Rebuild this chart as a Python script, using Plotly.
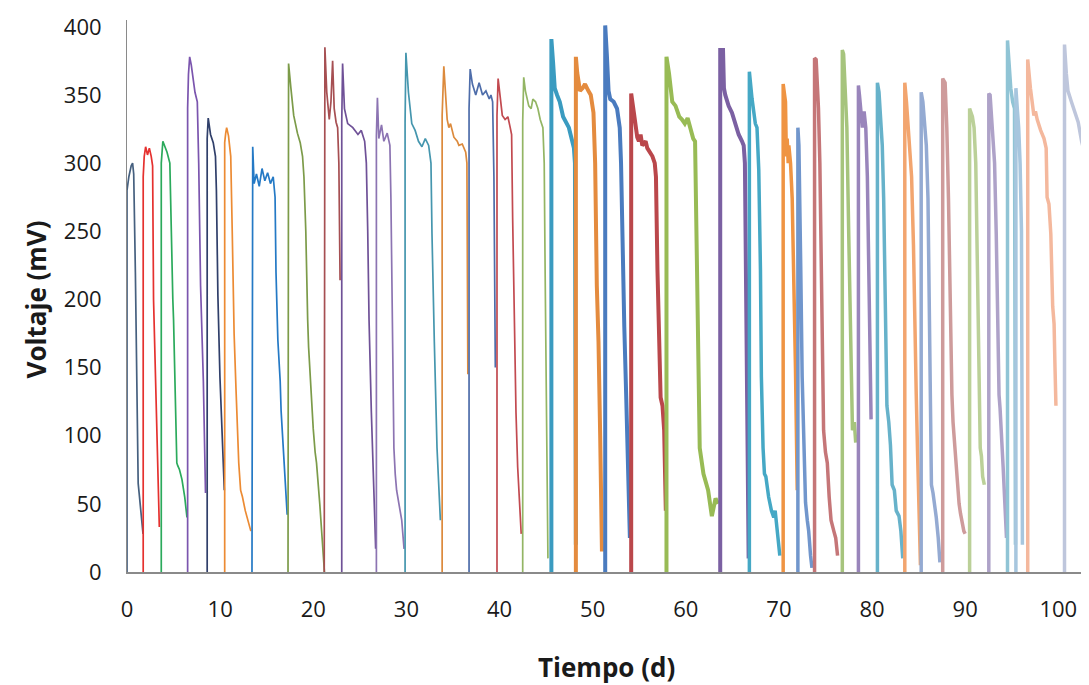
import plotly.graph_objects as go

# ---- data: one list of (time, voltage) readings per discharge cycle ----
tiempo_d = [
    [0, 0, 0.2, 0.45, 0.6, 0.72, 0.9, 1.1, 1.2, 1.3, 1.5, 1.72],
    [1.74, 1.74, 1.85, 2.0, 2.2, 2.4, 2.6, 2.75, 2.85, 3.1, 3.3, 3.47],
    [3.68, 3.68, 3.85, 4.0, 4.3, 4.6, 4.7, 4.81, 4.92, 5.0, 5.35, 5.45, 5.64, 5.9, 6.2, 6.44],
    [6.51, 6.51, 6.6, 6.73, 6.9, 7.1, 7.3, 7.55, 7.7, 7.9, 8.2, 8.43],
    [8.61, 8.61, 8.72, 8.97, 9.26, 9.5, 9.6, 9.76, 9.98, 10.23, 10.45],
    [10.49, 10.49, 10.6, 10.7, 10.9, 11.14, 11.3, 11.5, 11.7, 12.0, 12.2, 12.4, 12.7, 13.0, 13.3],
    [13.42, 13.42, 13.5, 13.65, 13.9, 14.2, 14.5, 14.8, 15.1, 15.4, 15.7, 15.9, 16.0, 16.2, 16.45, 16.55, 16.9, 17.2],
    [17.29, 17.29, 17.35, 17.6, 17.9, 18.3, 18.6, 18.85, 19.0, 19.2, 19.3, 19.4, 19.5, 19.7, 20.0, 20.2, 20.35, 20.7, 21.0, 21.2],
    [21.18, 21.18, 21.25, 21.45, 21.72, 21.9, 22.08, 22.25, 22.45, 22.62, 22.75, 22.88],
    [23.06, 23.06, 23.15, 23.35, 23.7, 24.25, 24.8, 25.16, 25.52, 25.7, 25.85, 25.99, 26.24, 26.45, 26.6, 26.7],
    [26.78, 26.78, 26.89, 27.04, 27.33, 27.58, 27.94, 28.23, 28.34, 28.52, 28.66, 28.8, 28.95, 29.2, 29.5, 29.75],
    [29.86, 29.86, 29.95, 30.22, 30.58, 30.94, 31.3, 31.67, 32.03, 32.39, 32.64, 32.75, 33.0, 33.29, 33.65],
    [33.84, 33.84, 34.02, 34.2, 34.38, 34.56, 34.74, 35.1, 35.46, 35.64, 36.0, 36.37, 36.5, 36.6],
    [36.73, 36.73, 36.85, 37.09, 37.45, 37.81, 38.18, 38.54, 38.9, 39.08, 39.26, 39.4, 39.55],
    [39.73, 39.73, 39.85, 40.05, 40.3, 40.6, 40.9, 41.15, 41.3, 41.41, 41.59, 41.77, 41.95, 42.2, 42.33],
    [42.49, 42.49, 42.6, 42.78, 43.14, 43.4, 43.58, 43.87, 44.12, 44.37, 44.66, 44.8, 44.9, 45.0, 45.1, 45.2],
    [45.57, 45.57, 45.75, 45.93, 46.18, 46.47, 46.83, 47.19, 47.45, 47.63, 47.81, 47.99, 48.1, 48.2],
    [48.2, 48.2, 48.35, 48.64, 48.93, 49.18, 49.54, 49.8, 50.09, 50.27, 50.45, 50.63, 50.81, 51.0],
    [51.35, 51.35, 51.53, 51.71, 51.89, 52.26, 52.62, 52.91, 53.05, 53.2, 53.4, 53.6, 53.8, 54.0],
    [54.14, 54.14, 54.43, 54.79, 54.97, 55.15, 55.33, 55.69, 55.87, 56.16, 56.42, 56.67, 56.8, 56.96, 57.14, 57.3, 57.5, 57.68, 57.86],
    [57.93, 57.93, 58.2, 58.55, 58.9, 59.3, 59.6, 59.9, 60.2, 60.5, 60.8, 61.0, 61.15, 61.3, 61.5, 61.9, 62.4, 62.8, 63.2, 63.45],
    [63.7, 63.7, 64.0, 64.1, 64.24, 64.6, 64.96, 65.32, 65.68, 66.04, 66.22, 66.35, 66.45, 66.55, 66.65, 66.75],
    [66.83, 66.83, 67.12, 67.47, 67.65, 67.84, 68.02, 68.12, 68.3, 68.45, 68.6, 68.9, 69.2, 69.45, 69.6, 69.85, 70.1],
    [70.46, 70.46, 70.71, 70.8, 70.89, 71.0, 71.07, 71.25, 71.43, 71.6, 71.78, 71.97],
    [72.04, 72.04, 72.15, 72.25, 72.35, 72.5, 72.68, 72.86, 73.05, 73.2, 73.4, 73.55],
    [73.83, 73.83, 74.0, 74.1, 74.25, 74.4, 74.55, 74.65, 74.8, 75.0, 75.2, 75.4, 75.6, 75.9, 76.1, 76.3],
    [76.81, 76.81, 76.95, 77.1, 77.3, 77.5, 77.7, 77.9, 78.1, 78.25],
    [78.54, 78.54, 78.65, 78.8, 78.97, 79.15, 79.33, 79.5, 79.65, 79.75, 79.85, 79.9],
    [80.58, 80.58, 80.75, 80.95, 81.1, 81.25, 81.43, 81.6, 81.8, 81.98, 82.16, 82.4, 82.6, 82.9, 83.1, 83.3],
    [83.52, 83.52, 83.7, 83.85, 84.05, 84.25, 84.45, 84.6, 84.75, 84.9, 85.05, 85.2],
    [85.28, 85.28, 85.46, 85.65, 85.83, 86.01, 86.12, 86.2, 86.3, 86.38, 86.55, 86.74, 86.9, 87.11, 87.29],
    [87.59, 87.59, 87.85, 88.03, 88.21, 88.4, 88.58, 88.7, 88.8, 89.0, 89.13, 89.35, 89.5, 89.7, 89.86, 90.0],
    [90.48, 90.48, 90.78, 90.96, 91.14, 91.33, 91.51, 91.62, 91.75, 91.88, 92.06],
    [92.54, 92.54, 92.68, 92.9, 93.16, 93.34, 93.53, 93.64, 93.75, 93.89, 94.08, 94.26, 94.44],
    [94.55, 94.55, 94.7, 94.9, 95.1, 95.3, 95.4],
    [95.45, 95.45, 95.6, 95.75, 95.9, 96.05, 96.15],
    [96.72, 96.72, 97.01, 97.2, 97.38, 97.55, 97.74, 98.11, 98.47, 98.7, 98.8, 99.0, 99.2, 99.4, 99.55, 99.65, 99.75],
    [100.67, 100.67, 100.86, 101.04, 101.41, 101.77, 102.14, 102.51, 102.69, 102.8, 102.87, 102.95, 103.1, 103.3],
]

voltaje_mv = [
    [0, 280, 290, 298, 300, 292, 220, 110, 65, 58, 45, 28],
    [0, 290, 305, 312, 306, 311, 305, 298, 200, 130, 75, 33],
    [0, 300, 316, 313, 308, 300, 270, 216, 200, 185, 80, 78, 75, 68, 55, 40],
    [0, 340, 365, 378, 372, 362, 352, 345, 300, 210, 140, 58],
    [0, 318, 333, 321, 315, 305, 280, 203, 143, 91, 60],
    [0, 315, 322, 326, 320, 305, 250, 175, 135, 80, 60, 55, 45, 38, 30],
    [0, 300, 312, 285, 292, 283, 296, 287, 293, 285, 290, 275, 220, 170, 140, 118, 75, 42],
    [0, 330, 373, 355, 335, 322, 315, 305, 290, 250, 200, 185, 165, 140, 105, 88, 80, 50, 15, 0],
    [0, 345, 385, 352, 332, 345, 375, 340, 330, 326, 300, 214],
    [0, 330, 373, 340, 329, 326, 321, 324, 316, 300, 250, 185, 117, 60, 40, 17],
    [0, 320, 348, 318, 328, 316, 322, 313, 274, 169, 91, 72, 60, 50, 38, 17],
    [0, 330, 381, 352, 329, 324, 316, 312, 318, 313, 300, 248, 169, 91, 38],
    [0, 335, 371, 353, 332, 326, 329, 319, 316, 313, 314, 308, 300, 145],
    [0, 340, 369, 358, 350, 359, 350, 353, 347, 350, 345, 290, 150],
    [0, 335, 362, 350, 335, 332, 334, 326, 321, 260, 169, 117, 77, 43, 28],
    [0, 330, 363, 353, 342, 340, 347, 345, 340, 332, 326, 300, 220, 140, 60, 10],
    [0, 391, 374, 355, 350, 345, 334, 329, 326, 321, 316, 311, 300, 20],
    [0, 378, 366, 353, 355, 358, 353, 350, 337, 300, 210, 169, 100, 15],
    [0, 401, 379, 353, 347, 345, 340, 326, 300, 240, 180, 130, 70, 25],
    [0, 351, 337, 319, 316, 321, 313, 316, 311, 308, 305, 300, 290, 222, 169, 128, 122, 104, 45],
    [0, 378, 366, 345, 342, 334, 332, 329, 333, 324, 318, 316, 250, 143, 91, 72, 60, 41, 54, 50],
    [0, 383, 383, 355, 350, 342, 337, 329, 321, 316, 313, 300, 220, 150, 80, 10],
    [0, 367, 347, 329, 326, 295, 222, 143, 91, 72, 70, 55, 45, 40, 45, 30, 12],
    [0, 358, 345, 305, 318, 300, 313, 300, 274, 222, 150, 60],
    [0, 326, 313, 280, 222, 143, 91, 51, 38, 30, 12, 3],
    [0, 377, 376, 360, 340, 300, 222, 143, 104, 88, 80, 55, 38, 30, 25, 12],
    [0, 383, 380, 360, 326, 248, 169, 104, 110, 95],
    [0, 357, 350, 340, 326, 338, 326, 290, 225, 215, 160, 112],
    [0, 359, 352, 330, 313, 274, 169, 122, 110, 93, 64, 60, 45, 41, 30, 10],
    [0, 359, 345, 330, 310, 290, 240, 175, 130, 85, 45, 5],
    [0, 352, 345, 326, 313, 274, 195, 143, 91, 64, 58, 49, 40, 25, 7],
    [0, 362, 359, 326, 274, 195, 130, 110, 100, 85, 64, 50, 43, 35, 30, 28],
    [0, 340, 334, 326, 300, 222, 143, 91, 85, 70, 64],
    [0, 351, 350, 326, 300, 248, 169, 130, 120, 104, 77, 51, 25],
    [0, 390, 375, 355, 345, 340, 20],
    [0, 355, 340, 326, 300, 250, 20],
    [0, 376, 355, 345, 335, 338, 332, 324, 318, 311, 275, 270, 248, 195, 182, 150, 122],
    [0, 387, 366, 353, 345, 338, 330, 316, 311, 260, 216, 150, 100, 55],
]

x_ticks = [0, 10, 20, 30, 40, 50, 60, 70, 80, 90, 100]
y_ticks = [0, 50, 100, 150, 200, 250, 300, 350, 400]

# ---- styles ----
line_colors = [
    "#46607F", "#E5312F", "#2BAA5C", "#7B55AE", "#303F6A", "#EC8B33", "#2479C5", "#7C9B49",
    "#A64F52", "#6F5197", "#8C74B2", "#4596AE", "#DC8A3C", "#4E6DAA", "#C24A50", "#93B564",
    "#3A9BC0", "#E48B3E", "#4A7BBF", "#BA474B", "#98BB55", "#7B60A2", "#45A8C5", "#EF9443",
    "#7196CC", "#C57678", "#A6C47D", "#9985BB", "#67B2CA", "#F2A56F", "#94AAD2", "#CE9B9B",
    "#BBD098", "#AEA2C8", "#90C4D5", "#A7C6DE", "#F4B89D", "#BEC6DC",
]
line_widths = [1.7] * 16 + [4.0] * 6 + [3.5] * 16

fig = go.Figure()
for t, v, c, w in zip(tiempo_d, voltaje_mv, line_colors, line_widths):
    fig.add_trace(go.Scatter(x=t, y=v, mode="lines",
                             line=dict(color=c, width=w),
                             showlegend=False, hoverinfo="skip"))

tick_font = dict(family="Open Sans", size=22, color="#1a1a1a")
title_font = dict(family="Open Sans", size=26, color="#1a1a1a")

# the page body adds an 8 px offset, so the figure is sized to fit the window
fig.update_layout(
    width=1081, height=677,
    margin=dict(l=119, r=0, t=12, b=113),
    paper_bgcolor="white", plot_bgcolor="white",
    xaxis=dict(range=[0, 103.3], tickvals=x_ticks, showgrid=False, zeroline=False,
               showline=True, linecolor="#8A8A8A", linewidth=1.5,
               ticks="", tickfont=tick_font, ticklabelstandoff=17),
    yaxis=dict(range=[0, 405], tickvals=y_ticks, showgrid=False, zeroline=False,
               showline=True, linecolor="#8A8A8A", linewidth=1,
               ticks="", tickfont=tick_font, ticklabelstandoff=20),
    annotations=[
        dict(text="<b>Voltaje (mV)</b>", xref="paper", yref="paper",
             x=-0.095, y=0.493, textangle=-90, showarrow=False,
             font=title_font, xanchor="center", yanchor="middle"),
        dict(text="<b>Tiempo (d)</b>", xref="paper", yref="paper",
             x=0.498, y=-0.172, showarrow=False,
             font=title_font, xanchor="center", yanchor="middle"),
    ],
)

fig.write_html("out.html")
